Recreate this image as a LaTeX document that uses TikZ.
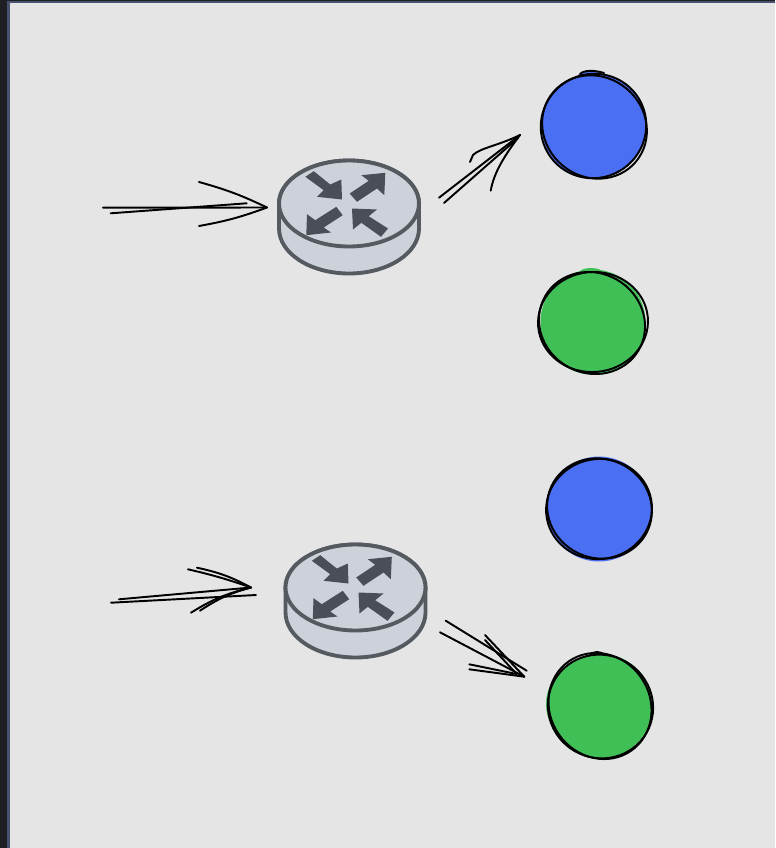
\documentclass[tikz,border=0pt]{standalone}
\usepackage{tikz}
\usetikzlibrary{shapes.geometric}
\definecolor{canvasgray}{HTML}{E5E5E5}
\definecolor{framedark}{HTML}{1E1F22}
\definecolor{frameslate}{HTML}{465270}
\definecolor{routerfill}{HTML}{CDD2DA}
\definecolor{routerline}{HTML}{555A61}
\definecolor{routerglyph}{HTML}{4A4F57}
\definecolor{hostblue}{HTML}{4A6FF2}
\definecolor{hostgreen}{HTML}{40BF56}
\begin{document}
\begin{tikzpicture}[x=0.02cm, y=-0.02cm,
    sketch/.style={black, line width=1.1pt, line cap=round, line join=round},
    routertop/.style={ellipse, draw=routerline, fill=routerfill, line width=2.2pt,
      minimum width=2.8cm, minimum height=1.72cm, inner sep=0pt, outer sep=0pt},
    routerbody/.style={draw=routerline, fill=routerfill, line width=2.2pt},
    glyph/.style={fill=routerglyph},
    bluehost/.style={circle, fill=hostblue, minimum size=2.1cm, inner sep=0pt},
    greenhost/.style={circle, fill=hostgreen, minimum size=2.1cm, inner sep=0pt}]
    \useasboundingbox (0,0) rectangle (775,848);
    \fill [canvasgray] (0,0) rectangle (775,848);
    \fill [frameslate] (7,0) rectangle (775,3);
    \fill [frameslate] (7,0) rectangle (10,848);
    \fill [framedark] (0,0) rectangle (7,848);
    \fill [framedark] (0,0) rectangle (775,1);

    \foreach \rname/\rx/\ry in {router1/349/203.5, router2/355.5/587.5} {
      \node [routertop] (\rname) at (\rx,\ry) {};
      \draw [routerbody] (\rname.west) -- ++(0,25)
        arc [start angle=180, end angle=0, x radius=70, y radius=45] -- (\rname.east);
      \node [routertop] at (\rname.center) {};
      \begin{scope}[shift={(\rname.center)}]
        \fill [glyph] (-35.3,-32.3) -- (-18.7,-19) -- (-7.7,-24) -- (-7,-4) -- (-32,-6.7)
          -- (-25.3,-13.3) -- (-43.7,-26.7) -- cycle;
        \fill [glyph] (36.3,-30.7) -- (35.3,-8.3) -- (28,-15) -- (8,-1.7) -- (0.7,-10)
          -- (19.7,-22.7) -- (12.3,-28.3) -- cycle;
        \fill [glyph] (-42.7,31.7) -- (-42,10.7) -- (-33.7,16.7) -- (-12.7,3.3) -- (-6.3,11.7)
          -- (-25.3,24) -- (-18,29) -- cycle;
        \fill [glyph] (3,5) -- (28,6) -- (19.7,12.7) -- (39,25) -- (32,33.3)
          -- (12.3,19.3) -- (4,26) -- cycle;
      \end{scope}
    }

    \node [bluehost] (blue1) at (594,126) {};
    \node [greenhost] (green1) at (593,322) {};
    \node [bluehost] (blue2) at (599,509) {};
    \node [greenhost] (green2) at (600,706) {};
    \fill [hostgreen] (591,273) ellipse [x radius=12, y radius=5];
    \fill [hostgreen] (596,372) ellipse [x radius=10, y radius=3];
    \fill [hostgreen] ([shift={(-3,-2)}]green2.center) ellipse [x radius=51, y radius=47];
    \fill [hostblue] (590,76) ellipse [x radius=12, y radius=5];

    \draw [sketch] ([shift={(-0.5,0)}]blue1.center) ellipse [x radius=53, y radius=52, rotate=30];
    \draw [sketch] ([shift={(0.5,1)}]blue1.center) ellipse [x radius=54, y radius=50, rotate=-40];
    \draw [sketch] (580,74) .. controls (584,70) and (594,70) .. (604,73);
    \draw [sketch] ([shift={(0,0)}]green1.center) ellipse [x radius=55, y radius=50, rotate=5];
    \draw [sketch] ([shift={(-1,1)}]green1.center) ellipse [x radius=54, y radius=50, rotate=-30];
    \draw [sketch] ([shift={(0,0)}]blue2.center) ellipse [x radius=53, y radius=50, rotate=10];
    \draw [sketch] ([shift={(0.5,-0.5)}]blue2.center) ellipse [x radius=53, y radius=49.5, rotate=-25];
    \draw [sketch] ([shift={(0.5,0.5)}]green2.center) ellipse [x radius=53, y radius=51.5, rotate=-30];
    \draw [sketch] ([shift={(0,0)}]green2.center) ellipse [x radius=50, y radius=54.5, rotate=35];
    \draw [sketch] (590,655) .. controls (594,651) and (600,651) .. (605,655);

    \path (103,207.7) coordinate (in1a)
          (110.7,213.3) coordinate (in1b)
          (267,207.5) coordinate (tip1a)
          (246.7,203.3) coordinate (tip1b)
          (199,182) coordinate (barb1a)
          (199,226) coordinate (barb1b);
    \draw [sketch] (in1a) -- (tip1a);
    \draw [sketch] (in1b) -- (tip1b);
    \draw [sketch] (barb1a) to [bend left=5] (tip1a);
    \draw [sketch] (barb1b) to [bend right=5] (tip1a);

    \path (439,197.7) coordinate (out1a)
          (444,203) coordinate (out1b)
          (520,135) coordinate (tip2a)
          (518,138) coordinate (tip2b)
          (470,162) coordinate (barb2a)
          (490.7,190.7) coordinate (barb2b);
    \draw [sketch] (out1a) -- (tip2a);
    \draw [sketch] (out1b) -- (tip2b);
    \draw [sketch] (barb2a) -- (473,155) .. controls (480,148) and (500,145) .. (tip2a);
    \draw [sketch] (barb2b) .. controls (494,172) and (505,155) .. (tip2a);

    \path (111,602.7) coordinate (in2a)
          (119,599.3) coordinate (in2b)
          (256,595) coordinate (tip3a)
          (251,587.5) coordinate (tip3b)
          (188,569.3) coordinate (barb3a)
          (197,567.7) coordinate (barb3b)
          (191,612.7) coordinate (barb3c)
          (200,610.7) coordinate (barb3d);
    \draw [sketch] (in2a) -- (tip3a);
    \draw [sketch] (in2b) -- (tip3b);
    \draw [sketch] (barb3a) to [bend left=3] (tip3b);
    \draw [sketch] (barb3b) to [bend left=8] (tip3b);
    \draw [sketch] (barb3c) to [bend left=9] (tip3b);
    \draw [sketch] (barb3d) to [bend left=9] (tip3b);

    \path (445.7,620.7) coordinate (out2a)
          (440,632.3) coordinate (out2b)
          (526.7,670.7) coordinate (tip4a)
          (524.3,676.7) coordinate (tip4b)
          (516.7,674) coordinate (tip4c)
          (485,635) coordinate (barb4a)
          (485,640) coordinate (barb4b)
          (469.3,664.3) coordinate (barb4c)
          (469.3,669.3) coordinate (barb4d);
    \draw [sketch] (out2a) -- (tip4a);
    \draw [sketch] (out2b) -- (tip4b);
    \draw [sketch] (barb4a) -- (tip4b);
    \draw [sketch] (barb4b) -- (tip4c);
    \draw [sketch] (barb4c) -- (tip4c);
    \draw [sketch] (barb4d) -- (tip4b);
  \end{tikzpicture}
\end{document}
